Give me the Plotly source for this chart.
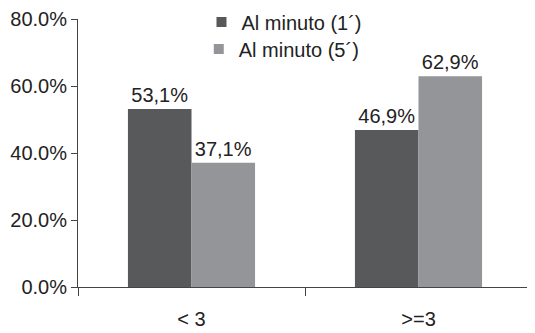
import plotly.graph_objects as go

categories = ["< 3", ">=3"]
series_names = ["Al minuto (1´)", "Al minuto (5´)"]
min1 = [0.531, 0.469]
min5 = [0.371, 0.629]
colors = ["#58595b", "#939598"]

def lbl(v):
    return f"{v*100:.1f}%".replace(".", ",")

fig = go.Figure()
for name, vals, col in zip(series_names, [min1, min5], colors):
    fig.add_trace(go.Bar(
        x=categories, y=vals, name=name, marker=dict(color=col, line=dict(width=0)),
        text=[lbl(v) for v in vals], textposition="outside", cliponaxis=False,
        textfont=dict(size=20, color="#222"), showlegend=False,
    ))
for name, col, lg in zip(series_names, colors, ["legend", "legend2"]):
    fig.add_trace(go.Scatter(
        x=[None], y=[None], mode="markers", name=name, legend=lg,
        marker=dict(symbol="square", size=10, color=col),
    ))

leg_common = dict(xanchor="left", yanchor="top", bgcolor="rgba(0,0,0,0)",
                  font=dict(size=20), itemwidth=30)
fig.update_layout(
    width=527, height=325,
    margin=dict(l=70, r=3, t=11, b=46, autoexpand=False),
    paper_bgcolor="white", plot_bgcolor="white",
    font=dict(family="Liberation Sans, Arial", size=20, color="#222"),
    barmode="group", bargap=0.44, bargroupgap=0,
    showlegend=True,
    legend=dict(x=0.272, y=1.062, **leg_common),
    legend2=dict(x=0.266, y=0.961, **leg_common),
)
fig.update_yaxes(range=[0, 0.8], tickvals=[0, 0.2, 0.4, 0.6, 0.8], tickformat=".1%",
                 showgrid=False, zeroline=False, showline=True, linecolor="#444",
                 linewidth=1, ticks="outside", ticklen=6, tickcolor="#444")
fig.update_xaxes(showgrid=False, showline=True, linecolor="#444", linewidth=1,
                 ticks="outside", tickson="boundaries", ticklen=8, tickcolor="#444",
                 ticklabelstandoff=14)

fig.write_html("out.html")
